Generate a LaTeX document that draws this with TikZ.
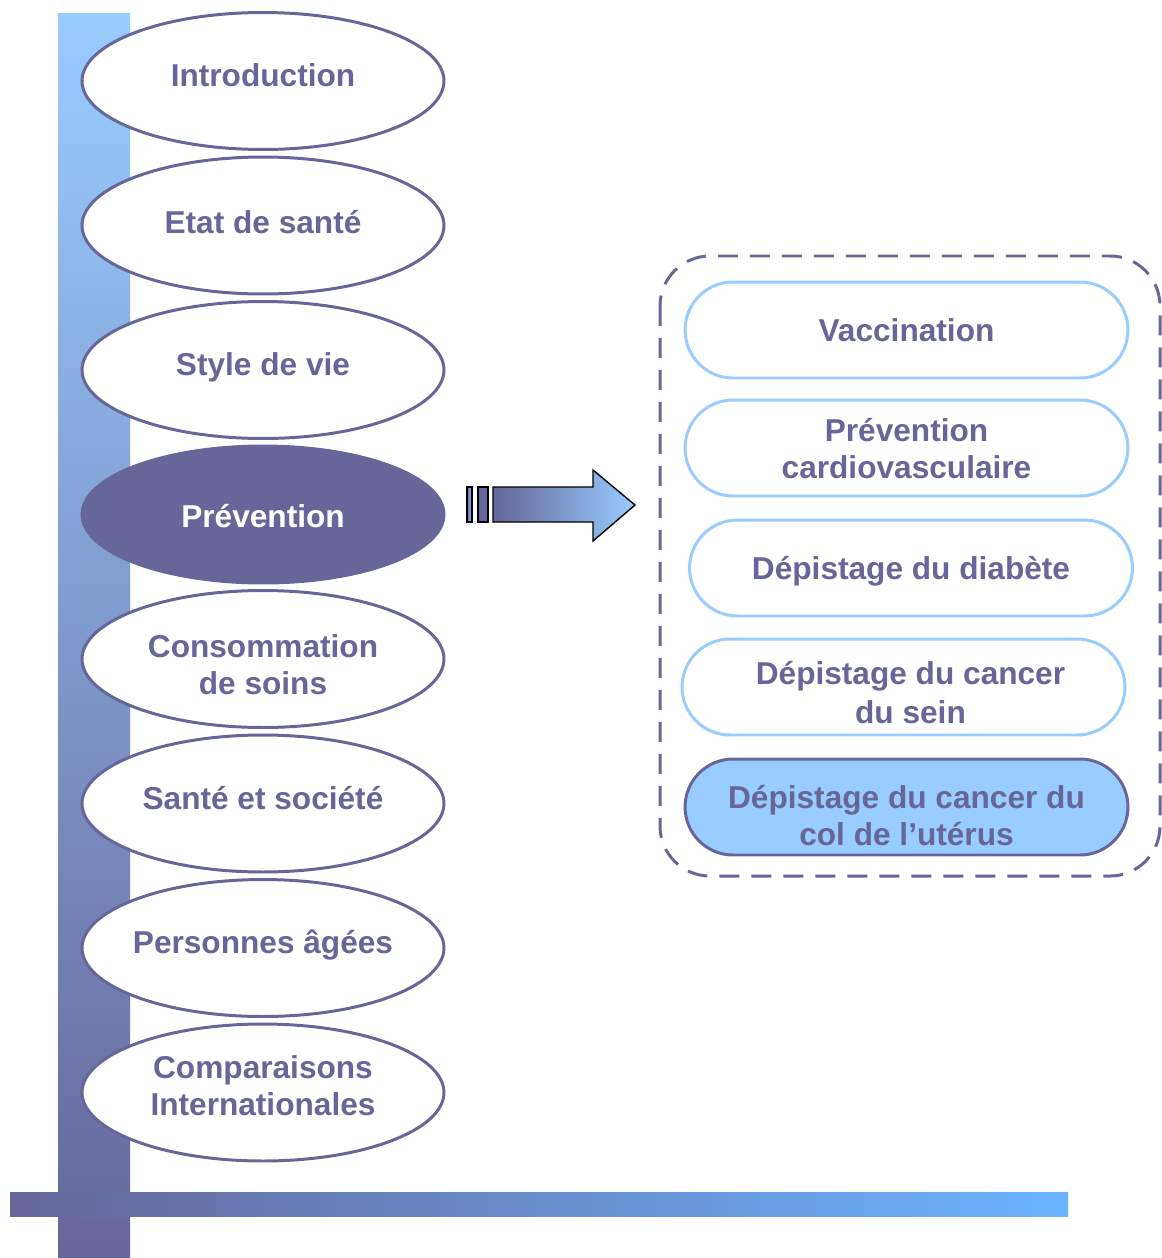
\documentclass[tikz,border=0pt]{standalone}
\usepackage{fontspec}
\setmainfont{Liberation Sans}
\usetikzlibrary{shapes.geometric,shapes.misc}

\definecolor{slate}{HTML}{666699}
\definecolor{sky}{HTML}{99CCFF}
\definecolor{azure}{HTML}{6AB4FF}

\tikzset{
  topic/.style={ellipse, draw=slate, line width=1.7pt, fill=white,
    minimum width=7.24cm, minimum height=2.74cm, inner xsep=-6pt, inner ysep=0pt,
    text height=0.5cm, text depth=0.28cm,
    align=center, text=slate, font=\fontsize{18}{21}\selectfont\bfseries},
  topicon/.style={topic, fill=slate, text=white},
  item/.style={rounded rectangle, draw=sky, line width=1.7pt, fill=white,
    minimum width=8.86cm, minimum height=1.92cm, inner sep=0pt,
    text height=0.5cm, text depth=0.04cm,
    align=center, text=slate, font=\fontsize{18}{21}\selectfont\bfseries},
  itemon/.style={item, draw=slate, fill=sky},
  lift/.style={text depth=#1},
  twoline/.style={text height=#1, text depth=0cm}
}

\begin{document}
\begin{tikzpicture}[x=0.02cm, y=-0.02cm]
\useasboundingbox (0,0) rectangle (1162,1258);

\def\cx{263}
\def\dy{144.5}

% axes
\shade[top color=sky, bottom color=slate] (58,13) rectangle (130,1258);
\shade[left color=slate, right color=azure] (10,1192) rectangle (1068,1216);

% chapters
\node[topic] (intro) at (\cx, 81) {Introduction};
\node[topic, lift=0.2cm] (etat) at (\cx, 81 + \dy) {Etat de santé};
\node[topic] (style) at (\cx, 81 + 2*\dy) {Style de vie};
\node[topicon, lift=0cm] (prev) at (\cx, 81 + 3*\dy) {Prévention};
\node[topic, twoline=1.42cm] (conso) at (\cx, 81 + 4*\dy) {Consommation\\de soins};
\node[topic] (societe) at (\cx, 81 + 5*\dy) {Santé et société};
\node[topic] (agees) at (\cx, 81 + 6*\dy) {Personnes âgées};
\node[topic, twoline=0.9cm] (compar) at (\cx, 81 + 7*\dy) {Comparaisons\\Internationales};

% arrow
\shadedraw[left color=slate, right color=sky, draw=black, line width=0.8pt]
  (467,487) rectangle (472,522);
\shadedraw[left color=slate, right color=slate!95!sky, draw=black, line width=0.8pt]
  (478,487) rectangle (488,522);
\shadedraw[left color=slate, right color=sky, draw=black, line width=0.8pt]
  (493,487) -- (593,487) -- (593,470) -- (635,505) -- (593,541)
  -- (593,522) -- (493,522) -- cycle;

% sub-topics
\draw[slate, line width=1.7pt, dash pattern=on 0.4cm off 0.24cm, rounded corners=1cm]
  (660,256) rectangle (1160,876);

\node[item] (vacc) at (906.5, 330) {Vaccination};
\node[item, twoline=1.22cm] (cardio) at (906.5, 448) {Prévention\\cardiovasculaire};
\node[item] (diab) at (911, 568) {Dépistage du diabète};
\node[item, twoline=1.44cm] (sein) at (903.5, 687) {\hspace{0.28cm}Dépistage du cancer\\[0.04cm]\hspace{0.28cm}du sein};
\node[itemon, twoline=1.54cm] (uterus) at (906.5, 807) {Dépistage du cancer du\\col de l’utérus};

\end{tikzpicture}
\end{document}
